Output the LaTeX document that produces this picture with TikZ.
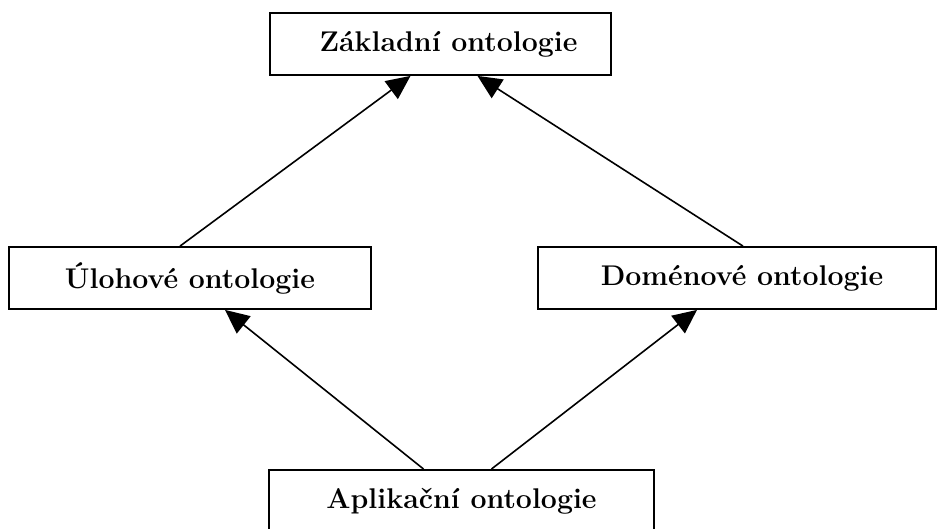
\documentclass[tikz,border=0pt]{standalone}
\usepackage{fontspec}
\setmainfont{Latin Modern Roman}
\usetikzlibrary{arrows.meta}
\begin{document}
\begin{tikzpicture}[x=1pt,y=-1pt,
  box/.style={draw=black,line width=1.8pt,fill=white,inner sep=0pt,
    minimum height=62pt,font=\fontsize{28.5}{32}\selectfont\bfseries},
  link/.style={line width=1.6pt,-{Triangle[length=24pt,width=22pt]}}]
  \useasboundingbox (0,0) rectangle (939,528);
  \node[box,minimum width=341pt] (base) at (440.5,44) {\hspace*{16pt}Základní ontologie};
  \node[box,minimum width=362pt] (task) at (190,278) {Úlohové ontologie};
  \node[box,minimum width=398pt] (domain) at (737,278) {\hspace*{10pt}Doménové ontologie};
  \node[box,minimum width=385pt,anchor=north] (app) at (461.5,469) {Aplikační ontologie};
  \draw[link] ([xshift=-10pt]task.north) -- ([xshift=-30pt]base.south);
  \draw[link] ([xshift=6pt]domain.north) -- ([xshift=37pt]base.south);
  \draw[link] ([xshift=-38pt]app.north) -- ([xshift=35pt]task.south);
  \draw[link] ([xshift=30pt]app.north) -- ([xshift=-40pt]domain.south);
\end{tikzpicture}
\end{document}
